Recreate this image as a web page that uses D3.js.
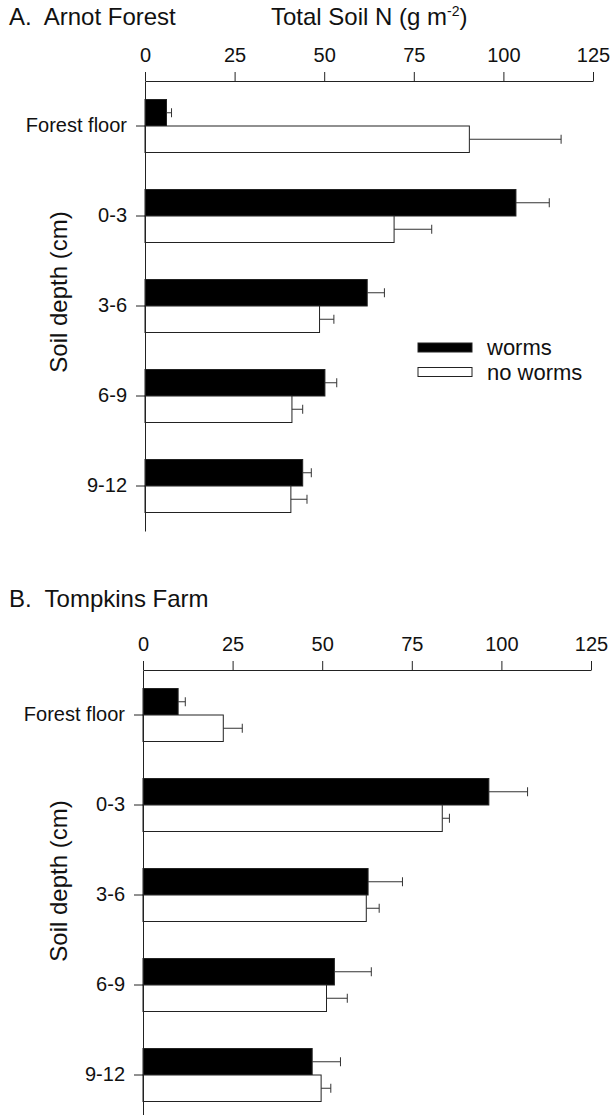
<!DOCTYPE html>
<html>
<head>
<meta charset="utf-8">
<script src="https://cdn.jsdelivr.net/npm/d3@7"></script>
<style>
  body { margin: 0; background: #fff; }
  svg { display: block; font-family: "Liberation Sans", Arial, Helvetica, sans-serif; }
</style>
</head>
<body>
<div id="chart"></div>
<script>
// Soil depth categories (top to bottom)
const depths = ["Forest floor", "0-3", "3-6", "6-9", "9-12"];
const xTicks = [0, 25, 50, 75, 100, 125];
const seriesNames = ["worms", "no worms"];

// A. Arnot Forest, total soil N (g m-2) and error bar length
const arnotWorms = [6, 103.5, 62, 50.2, 44];
const arnotWormsErr = [1.4, 9.3, 4.8, 3.3, 2.4];
const arnotNoWorms = [90.5, 69.5, 48.7, 41, 40.7];
const arnotNoWormsErr = [25.6, 10.5, 4, 3, 4.5];

// B. Tompkins Farm
const tompkinsWorms = [9.8, 96.5, 62.8, 53.4, 47.2];
const tompkinsWormsErr = [2, 10.8, 9.6, 10.3, 7.9];
const tompkinsNoWorms = [22.4, 83.5, 62.3, 51.2, 49.7];
const tompkinsNoWormsErr = [5.3, 2, 3.6, 5.8, 2.7];

class DepthBarChart {
  constructor(_config, _data) {
    this.config = {
      svg: _config.svg,
      title: _config.title,
      titleY: _config.titleY,
      axisY: _config.axisY,
      xRange: _config.xRange,
      showXTitle: _config.showXTitle || false,
      showLegend: _config.showLegend || false,
      barHeight: 26.5,
    };
    this.data = _data;
    this.initVis();
  }

  initVis() {
    let vis = this;
    vis.chart = vis.config.svg.append("g");

    vis.x = d3.scaleLinear().domain([0, 125]).range(vis.config.xRange);
    vis.y = d3
      .scaleBand()
      .domain(depths)
      .range([vis.config.axisY, vis.config.axisY + 450]);

    vis.xAxis = d3.axisTop(vis.x).tickValues(xTicks).tickSize(9).tickSizeOuter(0).tickPadding(10);
    vis.yAxis = d3.axisLeft(vis.y).tickSize(9).tickSizeOuter(0).tickPadding(9);

    vis.renderVis();
  }

  renderVis() {
    let vis = this;
    const bh = vis.config.barHeight;
    const mid = vis.y.bandwidth() / 2;

    // flatten into one row per bar
    const rows = [];
    vis.data.forEach((s, si) => {
      depths.forEach((d, i) => {
        rows.push({ depth: d, series: si, value: s.values[i], err: s.errs[i] });
      });
    });

    const barY = (d) => vis.y(d.depth) + mid + (d.series === 0 ? -bh : 0);

    // Bars
    vis.chart
      .selectAll(".bar")
      .data(rows)
      .join("rect")
      .attr("class", "bar")
      .attr("x", vis.x(0))
      .attr("y", barY)
      .attr("width", (d) => vis.x(d.value) - vis.x(0))
      .attr("height", bh)
      .attr("fill", (d) => (d.series === 0 ? "#000" : "#fff"))
      .attr("stroke", "#222")
      .attr("stroke-width", 1);

    // Error bars (one-sided)
    const err = vis.chart.selectAll(".err").data(rows).join("g").attr("class", "err");
    err
      .append("line")
      .attr("x1", (d) => vis.x(d.value))
      .attr("x2", (d) => vis.x(d.value + d.err))
      .attr("y1", (d) => barY(d) + bh / 2)
      .attr("y2", (d) => barY(d) + bh / 2)
      .attr("stroke", "#333");
    err
      .append("line")
      .attr("x1", (d) => vis.x(d.value + d.err))
      .attr("x2", (d) => vis.x(d.value + d.err))
      .attr("y1", (d) => barY(d) + bh / 2 - 4.5)
      .attr("y2", (d) => barY(d) + bh / 2 + 4.5)
      .attr("stroke", "#333");

    // Axes
    const xG = vis.chart.append("g").attr("transform", `translate(0,${vis.config.axisY})`).call(vis.xAxis);
    const yG = vis.chart.append("g").attr("transform", `translate(${vis.config.xRange[0]},0)`).call(vis.yAxis);
    [xG, yG].forEach((g) => {
      g.selectAll("path, line").attr("stroke", "#222");
      g.selectAll("text").attr("fill", "#111").attr("font-size", 20).attr("font-family", null);
    });

    // Panel title
    vis.chart
      .append("text")
      .attr("x", 9)
      .attr("y", vis.config.titleY)
      .attr("font-size", 24)
      .attr("fill", "#111")
      .style("white-space", "pre")
      .text(vis.config.title);

    // Y axis title
    vis.chart
      .append("text")
      .attr("transform", `translate(67,${vis.config.axisY + 211}) rotate(-90)`)
      .attr("text-anchor", "middle")
      .attr("font-size", 24)
      .attr("fill", "#111")
      .text("Soil depth (cm)");

    if (vis.config.showXTitle) {
      const t = vis.chart
        .append("text")
        .attr("x", 271)
        .attr("y", vis.config.titleY)
        .attr("font-size", 24)
        .attr("fill", "#111");
      t.append("tspan").text("Total Soil N (g m");
      t.append("tspan").attr("dy", -9).attr("font-size", 14).text("-2");
      t.append("tspan").attr("dy", 9).text(")");
    }

    if (vis.config.showLegend) {
      vis.legend = vis.chart.append("g").attr("class", "legend").attr("transform", "translate(418,343)");
      const items = vis.legend
        .selectAll("g")
        .data(seriesNames)
        .join("g")
        .attr("transform", (d, i) => `translate(0,${i * 24.5})`);
      items
        .append("rect")
        .attr("width", 54)
        .attr("height", 9)
        .attr("fill", (d, i) => (i === 0 ? "#000" : "#fff"))
        .attr("stroke", "#222");
      items
        .append("text")
        .attr("x", 69)
        .attr("y", 12)
        .attr("font-size", 22)
        .attr("fill", "#111")
        .text((d) => d);
    }
  }
}

const svg = d3.select("#chart").append("svg").attr("width", 611).attr("height", 1115);

new DepthBarChart(
  { svg: svg, title: "A.  Arnot Forest", titleY: 25, axisY: 81, xRange: [145, 593], showXTitle: true, showLegend: true },
  [
    { values: arnotWorms, errs: arnotWormsErr },
    { values: arnotNoWorms, errs: arnotNoWormsErr },
  ]
);

new DepthBarChart(
  { svg: svg, title: "B.  Tompkins Farm", titleY: 607, axisY: 670, xRange: [143, 591] },
  [
    { values: tompkinsWorms, errs: tompkinsWormsErr },
    { values: tompkinsNoWorms, errs: tompkinsNoWormsErr },
  ]
);
</script>
</body>
</html>
